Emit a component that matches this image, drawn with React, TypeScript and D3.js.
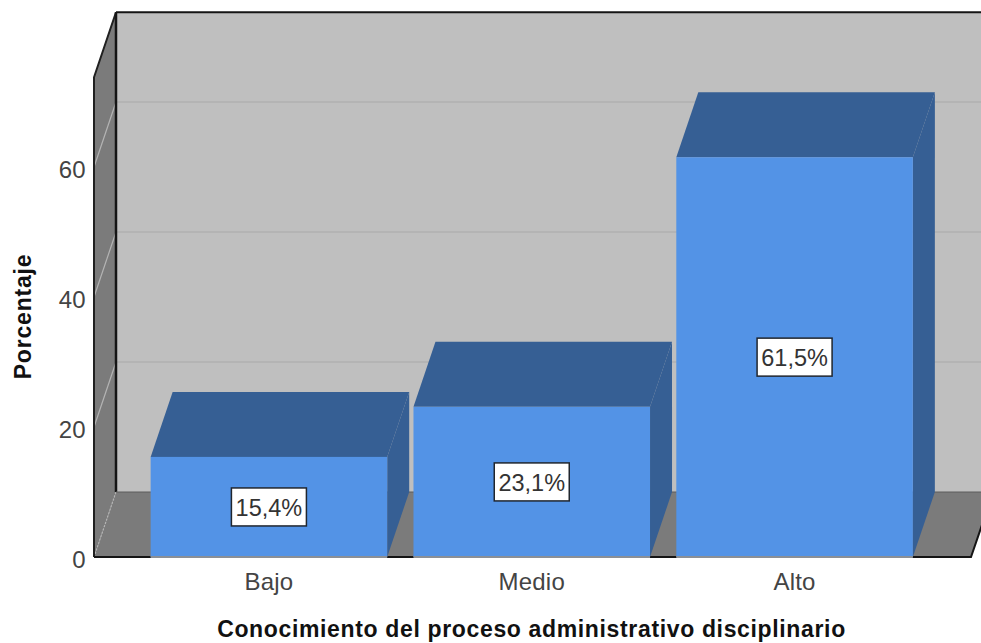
import React from "react";
import * as d3 from "d3";

const categories = ["Bajo", "Medio", "Alto"];
const percentages = [15.4, 23.1, 61.5];
const percentLabels = ["15,4%", "23,1%", "61,5%"];
const yTicks = [0, 20, 40, 60];
const gridTicks = [20, 40, 60];
const yTop = 73.8;
const xTitle = "Conocimiento del proceso administrativo disciplinario";
const yTitle = "Porcentaje";

const FONT = "'Liberation Sans', Arial, sans-serif";
const DX = 22;
const DY = -65;
const y = d3.scaleLinear().domain([0, 60]).range([557, 167]);
const x = d3.scaleBand<string>().domain(categories).range([137.5, 926]).paddingInner(0.1).paddingOuter(0.05);
const LEFT = 94;
const RIGHT = 971;

const poly = (pts: [number, number][]) => pts.map((p) => p.join(",")).join(" ");

export default function App() {
  const yMax = y(yTop);
  const y0 = y(0);
  return (
    <svg width={981} height={643} style={{ position: "absolute", left: 0, top: 0, background: "#fff" }} fontFamily={FONT}>
      {/* back wall */}
      <polygon points={poly([[LEFT + DX, yMax + DY], [RIGHT + DX + 20, yMax + DY], [RIGHT + DX + 20, y0 + DY], [LEFT + DX, y0 + DY]])} fill="#bfbfbf" />
      {/* left wall */}
      <polygon points={poly([[LEFT, yMax], [LEFT + DX, yMax + DY], [LEFT + DX, y0 + DY], [LEFT, y0]])} fill="#7b7b7b" />
      {/* floor */}
      <polygon points={poly([[LEFT, y0], [LEFT + DX, y0 + DY], [RIGHT + DX, y0 + DY], [RIGHT, y0]])} fill="#7b7b7b" />
      {/* gridlines */}
      {gridTicks.map((t) => (
        <g key={t}>
          <line x1={LEFT + DX} x2={981} y1={y(t) + DY} y2={y(t) + DY} stroke="#a9a9a9" strokeWidth={1.2} />
          <line x1={LEFT} x2={LEFT + DX} y1={y(t)} y2={y(t) + DY} stroke="#b4b4b4" strokeWidth={1.2} />
        </g>
      ))}
      <line x1={LEFT} x2={LEFT + DX} y1={y0} y2={y0 + DY} stroke="#b4b4b4" strokeWidth={1.2} strokeDasharray="2 1.5" />
      {/* frame */}
      <path d={`M${LEFT},${y0} L${LEFT},${yMax} L${LEFT + DX},${yMax + DY}`} fill="none" stroke="#202020" strokeWidth={2} />
      <line x1={LEFT + DX} x2={LEFT + DX} y1={yMax + DY} y2={y0 + DY} stroke="#151515" strokeWidth={2.5} />
      <line x1={LEFT + DX} x2={981} y1={yMax + DY} y2={yMax + DY} stroke="#151515" strokeWidth={2} />
      <line x1={LEFT + DX} x2={981} y1={y0 + DY} y2={y0 + DY} stroke="#5c5c5c" strokeWidth={1} />
      <path d={`M${LEFT},${y0} L${RIGHT},${y0} L${RIGHT + 11},${y0 - 32}`} fill="none" stroke="#151515" strokeWidth={2} />
      {/* bars */}
      {categories.map((c, i) => {
        const bx = x(c)!;
        const bw = x.bandwidth();
        const by = y(percentages[i]);
        return (
          <g key={c}>
            <polygon points={poly([[bx, by], [bx + DX, by + DY], [bx + bw + DX, by + DY], [bx + bw, by]])} fill="#365f94" />
            <polygon points={poly([[bx + bw, by], [bx + bw + DX, by + DY], [bx + bw + DX, y0 + DY], [bx + bw, y0]])} fill="#365f94" />
            <rect x={bx} y={by} width={bw} height={y0 - by} fill="#5393e6" />
            <line x1={bx} x2={bx + bw} y1={y0} y2={y0} stroke="#8a8f96" strokeWidth={2} />
          </g>
        );
      })}
      {/* value labels */}
      {categories.map((c, i) => {
        const cx = x(c)! + x.bandwidth() / 2;
        const cy = (y(percentages[i]) + y0) / 2;
        return (
          <g key={c + "-label"}>
            <rect x={cx - 37.5} y={cy - 19} width={75} height={38} fill="#fff" stroke="#20262e" strokeWidth={1.5} />
            <text x={cx} y={cy + 9} textAnchor="middle" fontSize={23.5} fill="#333">{percentLabels[i]}</text>
          </g>
        );
      })}
      {/* y axis */}
      {yTicks.map((t) => (
        <text key={t} x={85.5} y={y(t) + 10.5} textAnchor="end" fontSize={24} fill="#444">{t}</text>
      ))}
      <text transform="translate(31,316.5) rotate(-90)" textAnchor="middle" fontSize={23} fontWeight="bold" letterSpacing={0.8} fill="#111">{yTitle}</text>
      {/* x axis */}
      {categories.map((c) => (
        <text key={c + "-tick"} x={x(c)! + x.bandwidth() / 2} y={590} textAnchor="middle" fontSize={24} letterSpacing={0.2} fill="#444">{c}</text>
      ))}
      <text x={531.5} y={637} textAnchor="middle" fontSize={23} fontWeight="bold" letterSpacing={0.65} fill="#111">{xTitle}</text>
    </svg>
  );
}
